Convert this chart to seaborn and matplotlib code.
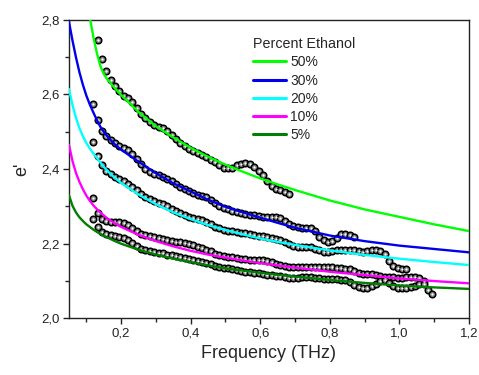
import pandas as pd
import matplotlib
matplotlib.use('Agg')
import matplotlib.pyplot as plt
import seaborn as sns
from matplotlib.ticker import MultipleLocator, FuncFormatter

# measured frequency grid (THz) shared by all samples
freq = [0.12, 0.1325, 0.145, 0.1575, 0.17, 0.1825, 0.195, 0.2075, 0.22, 0.2325,
        0.245, 0.2575, 0.27, 0.2825, 0.295, 0.3075, 0.32, 0.3325, 0.345, 0.3575,
        0.37, 0.3825, 0.395, 0.4075, 0.42, 0.4325, 0.445, 0.4575, 0.47, 0.4825,
        0.495, 0.5075, 0.52, 0.5325, 0.545, 0.5575, 0.57, 0.5825, 0.595, 0.6075,
        0.62, 0.6325, 0.645, 0.6575, 0.67, 0.6825, 0.695, 0.7075, 0.72, 0.7325,
        0.745, 0.7575, 0.77, 0.7825, 0.795, 0.8075, 0.82, 0.8325, 0.845, 0.8575,
        0.87, 0.8825, 0.895, 0.9075, 0.92, 0.9325, 0.945, 0.9575, 0.97, 0.9825,
        0.995, 1.0075, 1.02, 1.0325, 1.045, 1.0575, 1.07, 1.0825, 1.095]

labels = ['50%', '30%', '20%', '10%', '5%']
colors = ['#00ff00', '#0000ee', '#00ffff', '#ff00ff', '#008000']
data_start = [1, 0, 0, 0, 0]

e50 = [2.745, 2.695, 2.662, 2.638, 2.622, 2.610, 2.597, 2.590, 2.579, 2.563,
       2.548, 2.536, 2.526, 2.519, 2.514, 2.509, 2.502, 2.492, 2.480, 2.470,
       2.461, 2.453, 2.448, 2.443, 2.437, 2.432, 2.425, 2.419, 2.411, 2.404,
       2.403, 2.404, 2.410, 2.415, 2.416, 2.413, 2.405, 2.396, 2.385, 2.368,
       2.355, 2.347, 2.343, 2.340, 2.333]
e30 = [2.575, 2.532, 2.503, 2.488, 2.478, 2.469, 2.462, 2.456, 2.450, 2.441,
       2.428, 2.413, 2.401, 2.393, 2.388, 2.383, 2.379, 2.374, 2.368, 2.359,
       2.353, 2.347, 2.341, 2.336, 2.331, 2.329, 2.324, 2.316, 2.308, 2.301,
       2.296, 2.292, 2.289, 2.285, 2.282, 2.280, 2.278, 2.277, 2.275, 2.273,
       2.273, 2.273, 2.272, 2.268, 2.261, 2.253, 2.248, 2.244, 2.242, 2.242,
       2.242, 2.234, 2.219, 2.209, 2.205, 2.207, 2.215, 2.225, 2.227, 2.224,
       2.217]
e20 = [2.472, 2.435, 2.410, 2.396, 2.388, 2.380, 2.373, 2.367, 2.361, 2.353,
       2.343, 2.332, 2.324, 2.320, 2.315, 2.310, 2.306, 2.301, 2.294, 2.287,
       2.282, 2.277, 2.272, 2.268, 2.266, 2.263, 2.258, 2.252, 2.246, 2.241,
       2.237, 2.235, 2.234, 2.232, 2.229, 2.228, 2.226, 2.224, 2.222, 2.220,
       2.218, 2.216, 2.214, 2.210, 2.205, 2.199, 2.194, 2.192, 2.191, 2.192,
       2.192, 2.187, 2.182, 2.179, 2.179, 2.180, 2.183, 2.183, 2.183, 2.183,
       2.182, 2.180, 2.178, 2.180, 2.182, 2.183, 2.180, 2.172, 2.153, 2.141,
       2.135, 2.132, 2.131]
e10 = [2.323, 2.283, 2.266, 2.261, 2.259, 2.259, 2.258, 2.255, 2.250, 2.242,
       2.233, 2.227, 2.223, 2.220, 2.218, 2.216, 2.213, 2.210, 2.208, 2.206,
       2.204, 2.201, 2.199, 2.197, 2.192, 2.188, 2.184, 2.180, 2.173, 2.169,
       2.167, 2.165, 2.164, 2.162, 2.160, 2.158, 2.157, 2.157, 2.157, 2.156,
       2.154, 2.151, 2.147, 2.143, 2.141, 2.139, 2.139, 2.139, 2.139, 2.139,
       2.139, 2.139, 2.139, 2.138, 2.137, 2.137, 2.135, 2.134, 2.133, 2.131,
       2.127, 2.122, 2.119, 2.118, 2.118, 2.117, 2.114, 2.112, 2.111, 2.110,
       2.109, 2.109, 2.110, 2.110, 2.110, 2.107, 2.101]
e5 = [2.265, 2.245, 2.231, 2.226, 2.224, 2.221, 2.218, 2.215, 2.209, 2.201,
      2.193, 2.187, 2.183, 2.181, 2.178, 2.176, 2.174, 2.171, 2.169, 2.166,
      2.164, 2.162, 2.159, 2.156, 2.153, 2.150, 2.148, 2.146, 2.141, 2.138,
      2.136, 2.134, 2.132, 2.129, 2.127, 2.125, 2.123, 2.122, 2.121, 2.119,
      2.117, 2.116, 2.114, 2.113, 2.112, 2.109, 2.107, 2.109, 2.111, 2.111,
      2.110, 2.109, 2.107, 2.106, 2.105, 2.105, 2.105, 2.104, 2.103, 2.098,
      2.090, 2.084, 2.081, 2.082, 2.086, 2.093, 2.099, 2.102, 2.096, 2.087,
      2.082, 2.081, 2.081, 2.083, 2.088, 2.092, 2.092, 2.075, 2.066]

# fitted curves
fit_freq = [0.05, 0.06, 0.07, 0.08, 0.09, 0.10, 0.11, 0.12, 0.13, 0.14, 0.15,
            0.16, 0.18, 0.20, 0.25, 0.30, 0.35, 0.40, 0.45, 0.50, 0.55, 0.60,
            0.65, 0.70, 0.80, 0.90, 1.00, 1.10, 1.20]
fit_start = [5, 0, 0, 0, 0]
fit50 = [2.880, 2.806, 2.755, 2.712, 2.677, 2.655, 2.641, 2.619, 2.599, 2.553,
         2.515, 2.485, 2.457, 2.433, 2.412, 2.393, 2.375, 2.359, 2.344, 2.316,
         2.292, 2.272, 2.252, 2.234]
fit30 = [2.795, 2.745, 2.700, 2.660, 2.626, 2.597, 2.573, 2.552, 2.532, 2.514,
         2.500, 2.488, 2.468, 2.452, 2.420, 2.389, 2.362, 2.340, 2.318, 2.299,
         2.284, 2.270, 2.256, 2.243, 2.222, 2.207, 2.195, 2.186, 2.177]
fit20 = [2.615, 2.572, 2.538, 2.510, 2.488, 2.470, 2.455, 2.442, 2.430, 2.418,
         2.406, 2.396, 2.378, 2.363, 2.332, 2.306, 2.284, 2.266, 2.250, 2.237,
         2.225, 2.214, 2.205, 2.197, 2.182, 2.170, 2.160, 2.151, 2.143]
fit10 = [2.465, 2.422, 2.390, 2.366, 2.346, 2.329, 2.315, 2.303, 2.293, 2.284,
         2.276, 2.268, 2.256, 2.245, 2.224, 2.207, 2.193, 2.181, 2.171, 2.163,
         2.155, 2.148, 2.142, 2.136, 2.125, 2.116, 2.107, 2.100, 2.094]
fit5 = [2.330, 2.302, 2.284, 2.271, 2.261, 2.252, 2.245, 2.238, 2.232, 2.226,
        2.221, 2.217, 2.208, 2.200, 2.184, 2.171, 2.160, 2.151, 2.142, 2.134,
        2.128, 2.122, 2.117, 2.112, 2.103, 2.095, 2.088, 2.083, 2.079]

measured = [e50, e30, e20, e10, e5]
fits = [fit50, fit30, fit20, fit10, fit5]

sns.set_style('ticks')
plt.rcParams['font.family'] = ['Liberation Sans', 'DejaVu Sans']

fig = plt.figure(figsize=(4.79, 3.75), dpi=100)
ax = fig.add_axes([0.144, 0.151, 0.835, 0.796])

handles = []
for i in range(5):
    s = data_start[i]
    pts = pd.DataFrame({'f': freq[s:s + len(measured[i])], 'e': measured[i]})
    sns.scatterplot(x='f', y='e', data=pts, ax=ax, s=22, color='#858585',
                    edgecolor='black', linewidth=1.1, zorder=2, legend=False)
    sns.scatterplot(x='f', y='e', data=pts, ax=ax, s=2.5, color='white',
                    linewidth=0, zorder=2.1, legend=False)
for i in range(5):
    s = fit_start[i]
    fit = pd.DataFrame({'f': fit_freq[s:s + len(fits[i])], 'e': fits[i]})
    sns.lineplot(x='f', y='e', data=fit, ax=ax, color=colors[i], linewidth=1.7,
                 zorder=3, legend=False)
    handles.append(ax.lines[-1])

ax.set_xlim(0.05, 1.2)
ax.set_ylim(2.0, 2.8)
ax.xaxis.set_major_locator(MultipleLocator(0.2))
ax.xaxis.set_minor_locator(MultipleLocator(0.1))
ax.yaxis.set_major_locator(MultipleLocator(0.2))
ax.yaxis.set_minor_locator(MultipleLocator(0.1))
comma = FuncFormatter(lambda v, p: ('%.1f' % v).replace('.', ','))
ax.xaxis.set_major_formatter(comma)
ax.yaxis.set_major_formatter(comma)
ax.tick_params(which='major', direction='out', length=4.5, width=1,
               labelsize=9.5, colors='#222222', pad=2)
ax.tick_params(which='minor', direction='out', length=3, width=1)
ax.tick_params(top=False, right=False, which='both')
for sp in ax.spines.values():
    sp.set_visible(True)
    sp.set_linewidth(1.0)
    sp.set_color('#222222')

ax.set_xlabel('Frequency (THz)', fontsize=13, labelpad=4)
ax.set_ylabel("e'", fontsize=13, labelpad=8)

leg = ax.legend(handles, labels, title='Percent Ethanol', frameon=False,
                loc='upper left', bbox_to_anchor=(0.46, 0.942),
                fontsize=10, title_fontsize=10.3, alignment='left',
                handlelength=2.4, handletextpad=0.3, labelspacing=0.3,
                borderpad=0, borderaxespad=0)
for h in leg.legend_handles:
    h.set_linewidth(2.2)

fig.savefig('out.png', dpi=100)
